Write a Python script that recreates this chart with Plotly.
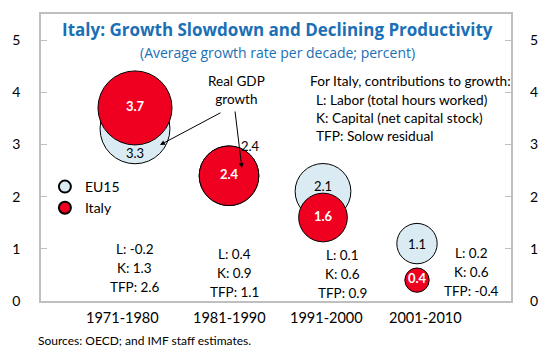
import plotly.graph_objects as go

# ---------------- data ----------------
periods = ["1971-1980", "1981-1990", "1991-2000", "2001-2010"]
period_pos = [1, 2, 3, 4]
eu15_growth = [3.3, 2.4, 2.1, 1.1]
italy_growth = [3.7, 2.4, 1.6, 0.4]
labor = [-0.2, 0.4, 0.1, 0.2]
capital = [1.3, 0.9, 0.6, 0.6]
tfp = [2.6, 1.1, 0.9, -0.4]
y_ticks = [0, 1, 2, 3, 4, 5]

# ---------------- layout helpers ----------------
W, H = 553, 355
ML, MR, MT, MB = 29, 42, 14, 54
PW, PH = W - ML - MR, H - MT - MB
FONT = "Lato, Carlito, Calibri, 'Open Sans', sans-serif"
TFONT = "'Open Sans', 'Noto Sans', sans-serif"
BLUE = "#1B6FB6"
RED = "#F00020"
LIGHT = "#DAEBF3"
SIZEREF = 0.00135


def px(x):
    return (x - ML) / PW


def py(y):
    return (H - MB - y) / PH


fig = go.Figure()

fig.add_trace(go.Scatter(
    x=period_pos, y=eu15_growth, mode="markers", name="EU15",
    marker=dict(size=eu15_growth, sizemode="area", sizeref=SIZEREF,
                color=LIGHT, opacity=1, line=dict(color="black", width=1)),
    hoverinfo="skip",
))
fig.add_trace(go.Scatter(
    x=period_pos, y=italy_growth, mode="markers+text", name="Italy",
    text=[f"{v:.1f}" for v in italy_growth], textposition="middle center",
    textfont=dict(family=FONT, size=13, color="white", weight="bold"),
    marker=dict(size=italy_growth, sizemode="area", sizeref=SIZEREF,
                color=RED, opacity=1, line=dict(color="black", width=1)),
    hoverinfo="skip",
))
fig.add_trace(go.Scatter(x=[], y=[], yaxis="y2", showlegend=False, hoverinfo="skip"))

ann = []
# EU15 value labels
eu_shifts = [(0, -24), (21, 30), (0, 5), (0, 0)]
for xp, v, (dx, dy) in zip(period_pos, eu15_growth, eu_shifts):
    ann.append(dict(x=xp, y=v, xref="x", yref="y", text=f"{v:.1f}", showarrow=False,
                    xshift=dx, yshift=dy, font=dict(family=FONT, size=13, color="black")))

# contribution blocks
block_x = [125, 227, 338, 471]
block_top = [249, 254, 255, 253]
for i in range(4):
    lines = [f"L: {labor[i]:.1f}", f"K: {capital[i]:.1f}", f"TFP: {tfp[i]:.1f}"]
    for j, t in enumerate(lines):
        ann.append(dict(x=px(block_x[i]), y=py(block_top[i] + 19 * j), xref="paper", yref="paper",
                        text=t, showarrow=False, xanchor="center", yanchor="middle",
                        font=dict(family=FONT, size=13.5, color="black")))

# category labels
cat_x = [113, 222, 322, 423]
for t, cx in zip(periods, cat_x):
    ann.append(dict(x=px(cx), y=py(317), xref="paper", yref="paper", text=t, showarrow=False,
                    xanchor="center", yanchor="middle", font=dict(family=FONT, size=14.5, color="black")))

# title and subtitle
ann.append(dict(x=px(272), y=py(29), xref="paper", yref="paper",
                text="<b>Italy: Growth Slowdown and Declining Productivity</b>", showarrow=False,
                xanchor="center", yanchor="middle", font=dict(family=TFONT, size=17, color=BLUE)))
ann.append(dict(x=px(272), y=py(52), xref="paper", yref="paper",
                text="(Average growth rate per decade; percent)", showarrow=False,
                xanchor="center", yanchor="middle", font=dict(family=TFONT, size=14, color=BLUE)))

# notes on the right
notes = [(303, 81, "For Italy, contributions to growth:"),
         (309, 99, "L: Labor (total hours worked)"),
         (309, 117, "K: Capital (net capital stock)"),
         (309, 135, "TFP: Solow residual")]
for nx, ny, t in notes:
    ann.append(dict(x=px(nx), y=py(ny), xref="paper", yref="paper", text=t, showarrow=False,
                    xanchor="left", yanchor="middle", font=dict(family=FONT, size=13.7, color="black")))

# Real GDP growth callout
ann.append(dict(x=px(229), y=py(90), xref="paper", yref="paper", text="Real GDP<br>growth",
                showarrow=False, xanchor="center", yanchor="middle",
                font=dict(family=FONT, size=13.5, color="black")))
for (tx, ty), (sx, sy) in [((151, 145), (213, 112)), ((235, 168), (228, 110))]:
    ann.append(dict(x=px(tx), y=py(ty), xref="paper", yref="paper", text="", showarrow=True,
                    ax=sx - tx, ay=sy - ty, arrowhead=2, arrowsize=1, arrowwidth=1,
                    arrowcolor="black"))

# sources
ann.append(dict(x=px(24), y=py(340), xref="paper", yref="paper",
                text="Sources: OECD; and IMF staff estimates.", showarrow=False,
                xanchor="left", yanchor="middle", font=dict(family=FONT, size=12, color="black")))

axis_common = dict(range=[0, 5.5], tickvals=y_ticks, ticks="inside", ticklen=6, tickcolor="#BFBFBF",
                   tickwidth=1, showgrid=False, zeroline=False,
                   tickfont=dict(family=FONT, size=14, color="black"))

fig.update_layout(
    width=W, height=H,
    margin=dict(l=ML, r=MR, t=MT, b=MB, pad=0),
    paper_bgcolor="white", plot_bgcolor="white",
    font=dict(family=FONT, size=13, color="black"),
    xaxis=dict(range=[0, 5], showticklabels=False, ticks="", showgrid=False, zeroline=False,
               showline=True, mirror=True, linecolor="#BFBFBF", linewidth=1.5),
    yaxis=dict(**axis_common, showline=True, mirror=True, linecolor="#BFBFBF", linewidth=1.5,
               ticklabelstandoff=16),
    yaxis2=dict(**axis_common, overlaying="y", side="right", showline=False, ticklabelstandoff=18),
    showlegend=True,
    legend=dict(x=px(33), y=py(171), xanchor="left", yanchor="top", bgcolor="rgba(0,0,0,0)",
                itemsizing="constant", font=dict(family=FONT, size=14, color="black"),
                tracegroupgap=0, itemwidth=30),
    annotations=ann,
)

fig.write_html("out.html", config={"displayModeBar": False},
               post_script="document.body.style.margin='0px';")
